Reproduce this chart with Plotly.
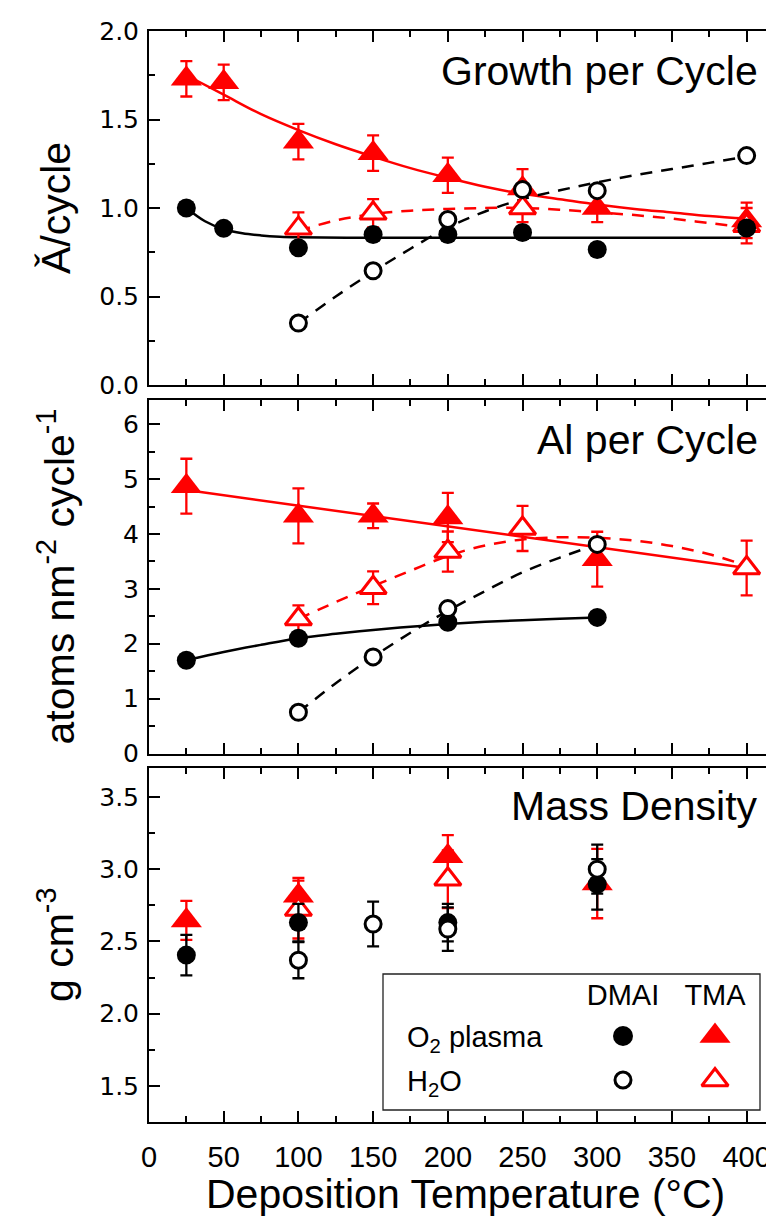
import plotly.graph_objects as go

# ---------------- data ----------------
# Panel 1: Growth per Cycle (Å/cycle)
gpc_tma_plasma_x = [25, 50, 100, 150, 200, 250, 300, 400]
gpc_tma_plasma_y = [1.73, 1.71, 1.375, 1.31, 1.185, 1.11, 1.0, 0.93]
gpc_tma_plasma_err = [0.1, 0.1, 0.1, 0.1, 0.1, 0.11, 0.08, 0.1]
gpc_tma_h2o_x = [100, 150, 250, 400]
gpc_tma_h2o_y = [0.885, 0.97, 1.0, 0.90]
gpc_tma_h2o_err = [0.09, 0.08, 0.08, 0.1]
gpc_dmai_plasma_x = [25, 50, 100, 150, 200, 250, 300, 400]
gpc_dmai_plasma_y = [1.0, 0.885, 0.775, 0.85, 0.85, 0.862, 0.766, 0.887]
gpc_dmai_h2o_x = [100, 150, 200, 250, 300, 400]
gpc_dmai_h2o_y = [0.35, 0.645, 0.935, 1.104, 1.098, 1.296]

fit_gpc_tma_plasma_x = [25, 50, 75, 100, 125, 150, 175, 200, 225, 250, 275, 300, 325, 350, 375, 400]
fit_gpc_tma_plasma_y = [1.75, 1.64, 1.53, 1.44, 1.36, 1.29, 1.225, 1.17, 1.12, 1.08, 1.05, 1.02, 0.995, 0.975, 0.955, 0.94]
fit_gpc_tma_h2o_x = [100, 125, 150, 175, 200, 225, 250, 275, 300, 325, 350, 375, 400]
fit_gpc_tma_h2o_y = [0.87, 0.93, 0.965, 0.985, 0.995, 1.0, 1.0, 0.99, 0.975, 0.96, 0.94, 0.915, 0.89]
fit_gpc_dmai_plasma_x = [25, 37.5, 50, 62.5, 75, 87.5, 100, 150, 200, 300, 400]
fit_gpc_dmai_plasma_y = [1.0, 0.925, 0.88, 0.857, 0.845, 0.838, 0.835, 0.832, 0.832, 0.832, 0.832]
fit_gpc_dmai_h2o_x = [100, 125, 150, 175, 200, 225, 250, 275, 300, 325, 350, 375, 400]
fit_gpc_dmai_h2o_y = [0.35, 0.5, 0.64, 0.77, 0.89, 0.98, 1.05, 1.10, 1.145, 1.185, 1.22, 1.255, 1.29]

# Panel 2: Al per Cycle (atoms nm^-2 cycle^-1)
apc_tma_plasma_x = [25, 100, 150, 200, 300]
apc_tma_plasma_y = [4.87, 4.33, 4.33, 4.30, 3.54]
apc_tma_plasma_err = [0.5, 0.5, 0.225, 0.45, 0.5]
apc_tma_h2o_x = [100, 150, 200, 250, 400]
apc_tma_h2o_y = [2.45, 3.02, 3.68, 4.10, 3.38]
apc_tma_h2o_err = [0.25, 0.3, 0.365, 0.41, 0.5]
apc_dmai_plasma_x = [25, 100, 200, 300]
apc_dmai_plasma_y = [1.70, 2.10, 2.39, 2.48]
apc_dmai_h2o_x = [100, 150, 200, 300]
apc_dmai_h2o_y = [0.75, 1.76, 2.64, 3.81]

fit_apc_tma_plasma_x = [25, 400]
fit_apc_tma_plasma_y = [4.8, 3.38]
fit_apc_tma_h2o_x = [100, 125, 150, 175, 200, 225, 250, 275, 300, 325, 350, 375, 400]
fit_apc_tma_h2o_y = [2.45, 2.76, 3.05, 3.33, 3.60, 3.79, 3.9, 3.94, 3.93, 3.88, 3.78, 3.63, 3.42]
fit_apc_dmai_plasma_x = [25, 50, 75, 100, 125, 150, 175, 200, 225, 250, 275, 300]
fit_apc_dmai_plasma_y = [1.70, 1.85, 1.98, 2.10, 2.18, 2.25, 2.31, 2.36, 2.40, 2.43, 2.455, 2.48]
fit_apc_dmai_h2o_x = [100, 125, 150, 175, 200, 225, 250, 275, 300]
fit_apc_dmai_h2o_y = [0.75, 1.28, 1.76, 2.2, 2.6, 2.96, 3.3, 3.57, 3.81]

# Panel 3: Mass Density (g cm^-3)
den_tma_plasma_x = [25, 100, 200, 300]
den_tma_plasma_y = [2.645, 2.815, 3.09, 2.90]
den_tma_plasma_err = [0.135, 0.125, 0.145, 0.24]
den_tma_h2o_x = [100, 200]
den_tma_h2o_y = [2.72, 2.93]
den_tma_h2o_err = [0.2, 0.2]
den_dmai_plasma_x = [25, 100, 200, 300]
den_dmai_plasma_y = [2.405, 2.63, 2.63, 2.895]
den_dmai_plasma_err = [0.14, 0.13, 0.13, 0.175]
den_dmai_h2o_x = [100, 150, 200, 300]
den_dmai_h2o_y = [2.37, 2.62, 2.585, 3.0]
den_dmai_h2o_err = [0.125, 0.155, 0.15, 0.17]

# legend grid
precursors = ["DMAI", "TMA"]
oxidants = ["H2O", "O2 plasma"]
oxidant_labels = {"O2 plasma": "O<sub>2</sub> plasma", "H2O": "H<sub>2</sub>O"}

panel_titles = ["Growth per Cycle", "Al per Cycle", "Mass Density"]
y_titles = ["Ǎ/cycle", "atoms nm<sup>-2</sup> cycle<sup>-1</sup>", "g cm<sup>-3</sup>"]
x_title = "Deposition Temperature (°C)"

# ---------------- styles ----------------
RED = "#ff0000"
BLK = "#000000"
FONT = "Liberation Sans, Arial, sans-serif"
LW = 2.5
DASH = "12px,9px"

styles = {
    "tma_plasma": dict(mode="markers", marker=dict(symbol="triangle-up", size=27, color=RED, line=dict(width=0))),
    "tma_h2o": dict(mode="markers", marker=dict(symbol="triangle-up", size=23, color="white", line=dict(width=3, color=RED))),
    "dmai_plasma": dict(mode="markers", marker=dict(symbol="circle", size=19, color=BLK, line=dict(width=0))),
    "dmai_h2o": dict(mode="markers", marker=dict(symbol="circle", size=16, color="white", line=dict(width=3, color=BLK))),
}


def err(vals, color):
    return dict(type="data", array=vals, visible=True, color=color, thickness=2.3, width=6)


fig = go.Figure()


def add_fit(x, y, color, dash, xa, ya):
    fig.add_trace(go.Scatter(x=x, y=y, mode="lines", line=dict(color=color, width=LW, dash=dash, shape="spline"),
                             xaxis=xa, yaxis=ya, showlegend=False, hoverinfo="skip"))


def add_pts(x, y, key, xa, ya, e=None, color=None):
    kw = dict(styles[key])
    t = go.Scatter(x=x, y=y, xaxis=xa, yaxis=ya, showlegend=False, cliponaxis=False, **kw)
    if e is not None:
        t.error_y = err(e, color)
    fig.add_trace(t)


# Panel 1
add_fit(fit_gpc_tma_plasma_x, fit_gpc_tma_plasma_y, RED, "solid", "x", "y")
add_fit(fit_gpc_tma_h2o_x, fit_gpc_tma_h2o_y, RED, DASH, "x", "y")
add_fit(fit_gpc_dmai_plasma_x, fit_gpc_dmai_plasma_y, BLK, "solid", "x", "y")
add_fit(fit_gpc_dmai_h2o_x, fit_gpc_dmai_h2o_y, BLK, DASH, "x", "y")
add_pts(gpc_tma_plasma_x, gpc_tma_plasma_y, "tma_plasma", "x", "y", gpc_tma_plasma_err, RED)
add_pts(gpc_tma_h2o_x, gpc_tma_h2o_y, "tma_h2o", "x", "y", gpc_tma_h2o_err, RED)
add_pts(gpc_dmai_plasma_x, gpc_dmai_plasma_y, "dmai_plasma", "x", "y")
add_pts(gpc_dmai_h2o_x, gpc_dmai_h2o_y, "dmai_h2o", "x", "y")

# Panel 2
add_fit(fit_apc_tma_plasma_x, fit_apc_tma_plasma_y, RED, "solid", "x2", "y2")
add_fit(fit_apc_tma_h2o_x, fit_apc_tma_h2o_y, RED, DASH, "x2", "y2")
add_fit(fit_apc_dmai_plasma_x, fit_apc_dmai_plasma_y, BLK, "solid", "x2", "y2")
add_fit(fit_apc_dmai_h2o_x, fit_apc_dmai_h2o_y, BLK, DASH, "x2", "y2")
add_pts(apc_tma_plasma_x, apc_tma_plasma_y, "tma_plasma", "x2", "y2", apc_tma_plasma_err, RED)
add_pts(apc_tma_h2o_x, apc_tma_h2o_y, "tma_h2o", "x2", "y2", apc_tma_h2o_err, RED)
add_pts(apc_dmai_plasma_x, apc_dmai_plasma_y, "dmai_plasma", "x2", "y2")
add_pts(apc_dmai_h2o_x, apc_dmai_h2o_y, "dmai_h2o", "x2", "y2")

# Panel 3
add_pts(den_tma_plasma_x, den_tma_plasma_y, "tma_plasma", "x3", "y3", den_tma_plasma_err, RED)
add_pts(den_tma_h2o_x, den_tma_h2o_y, "tma_h2o", "x3", "y3", den_tma_h2o_err, RED)
add_pts(den_dmai_plasma_x, den_dmai_plasma_y, "dmai_plasma", "x3", "y3", den_dmai_plasma_err, BLK)
add_pts(den_dmai_h2o_x, den_dmai_h2o_y, "dmai_h2o", "x3", "y3", den_dmai_h2o_err, BLK)

# Legend grid markers (categorical overlay axes)
for prec in precursors:
    for ox in oxidants:
        key = ("tma" if prec == "TMA" else "dmai") + ("_plasma" if ox == "O2 plasma" else "_h2o")
        m = dict(styles[key]["marker"])
        if key == "dmai_plasma":
            m["size"] = 20
        fig.add_trace(go.Scatter(x=[prec], y=[ox], mode="markers", marker=m, xaxis="x4", yaxis="y4",
                                 showlegend=False, hoverinfo="skip"))

# ---------------- layout ----------------
W, H = 774, 1216
ML, MR, MT, MB = 141, 1, 23, 102
plot_h = H - MT - MB
ph = 354 / plot_h
gap = (1 - 3 * ph) / 2
doms = [[1 - ph, 1.0], [ph + gap, 2 * ph + gap], [0.0, ph]]

axis_common = dict(showline=True, linewidth=2, linecolor=BLK, mirror="ticks", ticks="inside",
                   tickwidth=2, tickcolor=BLK, showgrid=False, zeroline=False)

xcommon = dict(axis_common, range=[0, 423], tick0=0, dtick=50, ticklen=11,
               minor=dict(dtick=25, ticks="inside", ticklen=6, tickwidth=2, tickcolor=BLK, showgrid=False),
               tickfont=dict(family=FONT, size=29, color=BLK))

yranges = [[0, 2], [0, 6.45], [1.25, 3.7]]
ydticks = [0.5, 1, 0.5]
yfmt = [".1f", "d", ".1f"]

layout = dict(width=W, height=H, margin=dict(l=ML, r=MR, t=MT, b=MB, autoexpand=False),
              paper_bgcolor="white", plot_bgcolor="white", showlegend=False)

for i in range(3):
    xn = "xaxis" if i == 0 else f"xaxis{i+1}"
    yn = "yaxis" if i == 0 else f"yaxis{i+1}"
    ya = "y" if i == 0 else f"y{i+1}"
    layout[xn] = dict(xcommon, anchor=ya, domain=[0, 1], showticklabels=(i == 2), ticklabelstandoff=8)
    if i > 0:
        layout[xn]["matches"] = "x"
    layout[yn] = dict(axis_common, anchor=("x" if i == 0 else f"x{i+1}"), domain=doms[i], range=yranges[i],
                      tick0=0, dtick=ydticks[i], ticklen=11, tickformat=yfmt[i],
                      minor=dict(dtick=ydticks[i] / 2, ticks="inside", ticklen=6, tickwidth=2, tickcolor=BLK,
                                 showgrid=False),
                      tickfont=dict(family="DejaVu Sans, Verdana, sans-serif", size=25, color=BLK),
                      ticklabelstandoff=3)

pw = W - ML - MR


def px_to_xp(px):
    return (px - ML) / pw


def py_to_yp(py):
    return (H - MB - py) / plot_h


layout["xaxis4"] = dict(domain=[px_to_xp(569), px_to_xp(753)], anchor="y4", type="category",
                        categoryorder="array", categoryarray=precursors, range=[-0.5, 1.5], side="top",
                        showline=False, ticks="", showgrid=False, zeroline=False, fixedrange=True,
                        tickfont=dict(family=FONT, size=29, color=BLK), ticklabelstandoff=2)
layout["yaxis4"] = dict(domain=[py_to_yp(1094), py_to_yp(1006)], anchor="x4", type="category",
                        categoryorder="array", categoryarray=oxidants, range=[-0.5, 1.5],
                        showline=False, ticks="", showgrid=False, zeroline=False, showticklabels=False,
                        fixedrange=True)

annotations = []
for i in range(3):
    yd = "y domain" if i == 0 else f"y{i+1} domain"
    annotations.append(dict(text=panel_titles[i], xref="paper", yref=yd, x=px_to_xp(752), y=[0.886, 0.886, 0.894][i],
                            xanchor="right", yanchor="middle", showarrow=False,
                            font=dict(family=FONT, size=41, color=BLK)))
    annotations.append(dict(text=y_titles[i], xref="paper", yref=yd, x=px_to_xp(48), y=0.5, textangle=-90,
                            xanchor="center", yanchor="middle", showarrow=False,
                            font=dict(family=FONT, size=41, color=BLK)))

annotations.append(dict(text=x_title, xref="paper", yref="paper", x=0.5, y=py_to_yp(1186),
                        xanchor="center", yanchor="middle", showarrow=False,
                        font=dict(family=FONT, size=41, color=BLK)))

for ox in oxidants:
    annotations.append(dict(text=oxidant_labels[ox], xref="paper", yref="y4", x=px_to_xp(397),
                            y=oxidants.index(ox), xanchor="left", yanchor="middle", yshift=-3, showarrow=False,
                            font=dict(family=FONT, size=29, color=BLK)))

layout["annotations"] = annotations
layout["shapes"] = [dict(type="rect", xref="paper", yref="paper", x0=px_to_xp(375), x1=px_to_xp(752),
                         y0=py_to_yp(1102), y1=py_to_yp(966), line=dict(color="#222222", width=1.3),
                         fillcolor="rgba(0,0,0,0)", layer="above")]

fig.update_layout(**layout)
fig.write_html("out.html")
